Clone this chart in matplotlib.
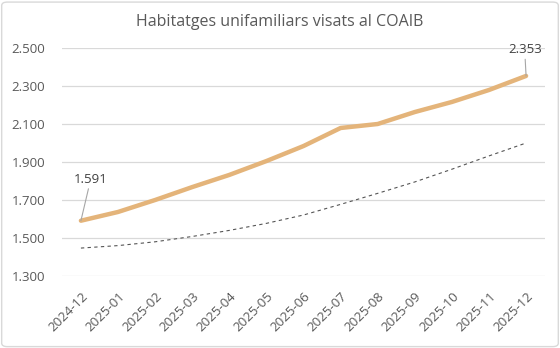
import matplotlib.pyplot as plt
from matplotlib.patches import FancyBboxPatch
from matplotlib.ticker import FuncFormatter

months = ["2024-12", "2025-01", "2025-02", "2025-03", "2025-04", "2025-05", "2025-06",
          "2025-07", "2025-08", "2025-09", "2025-10", "2025-11", "2025-12"]
visats = [1591, 1637, 1700, 1768, 1832, 1905, 1984, 2079, 2100, 2163, 2216, 2279, 2353]
tendencia = [1447, 1460, 1480, 1508, 1540, 1577, 1621, 1677, 1735, 1795, 1862, 1932, 2000]
y_ticks = [1300, 1500, 1700, 1900, 2100, 2300, 2500]


def thousands(v, pos):
    return f"{int(v):,}".replace(",", ".")


def main():
    plt.rcParams["font.family"] = ["Open Sans", "DejaVu Sans"]
    fig = plt.figure(figsize=(5.6, 3.48), dpi=100)
    ax = fig.add_axes([62 / 560, 1 - 276 / 348, (545 - 62) / 560, (276 - 48) / 348])

    x = list(range(len(months)))
    ax.plot(x, tendencia, color="#555555", linestyle=(0, (3, 3)), linewidth=0.8, zorder=2)
    ax.plot(x, visats, color="#E4B47A", linewidth=3.2, solid_capstyle="round", zorder=3)

    ax.set_xlim(-0.51, len(months) - 0.49)
    ax.set_ylim(1300, 2500)
    ax.set_yticks(y_ticks)
    ax.yaxis.set_major_formatter(FuncFormatter(thousands))
    ax.set_xticks(x)
    ax.set_xticklabels(months, rotation=45, ha="right", rotation_mode="anchor")
    ax.tick_params(axis="both", length=0, labelsize=9.5, colors="#595959")
    ax.tick_params(axis="x", pad=10)
    ax.tick_params(axis="y", pad=12)
    ax.grid(axis="y", color="#d9d9d9", linewidth=0.9)
    ax.set_axisbelow(True)
    for s in ax.spines.values():
        s.set_visible(False)

    ax.annotate(thousands(visats[0], None), xy=(0, visats[0]), xytext=(7, 25),
                textcoords="offset points", ha="center", va="bottom", fontsize=9.5,
                color="#404040", arrowprops=dict(arrowstyle="-", color="#a6a6a6", lw=0.8,
                                                 shrinkA=0, shrinkB=0))
    ax.annotate(thousands(visats[-1], None), xy=(x[-1], visats[-1]), xytext=(-1, 14),
                textcoords="offset points", ha="center", va="bottom", fontsize=9.5,
                color="#404040", arrowprops=dict(arrowstyle="-", color="#a6a6a6", lw=0.8,
                                                 shrinkA=0, shrinkB=0))

    fig.text(0.5, 1 - 22 / 348, "Habitatges unifamiliars visats al COAIB", ha="center",
             va="center", fontsize=11.5, color="#595959")

    border = FancyBboxPatch((0.003, 0.004), 0.994, 0.99, boxstyle="round,pad=0,rounding_size=0.01",
                            transform=fig.transFigure, fill=False, edgecolor="#d9d9d9",
                            linewidth=1.0)
    fig.patches.append(border)

    fig.savefig("out.png", dpi=100)


if __name__ == "__main__":
    main()
